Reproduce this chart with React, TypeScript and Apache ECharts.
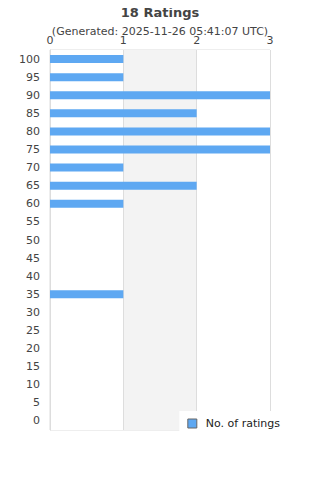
import React, { useEffect, useRef } from "react";
import * as echarts from "echarts";

const categories = ["0","5","10","15","20","25","30","35","40","45","50","55","60","65","70","75","80","85","90","95","100"];
const ratings = [0,0,0,0,0,0,0,1,0,0,0,0,1,2,1,3,3,2,3,1,1];
const xTicks = [0, 1, 2, 3];
const titleText = "18 Ratings";
const subText = "(Generated: 2025-11-26 05:41:07 UTC)";
const seriesName = "No. of ratings";

export default function App() {
  const ref = useRef<HTMLDivElement>(null);
  useEffect(() => {
    const chart = echarts.init(ref.current!, null, { renderer: "svg" });
    chart.setOption({
      animation: false,
      textStyle: { fontFamily: "DejaVu Sans" },
      title: {
        text: titleText,
        subtext: subText,
        left: "center",
        top: 1,
        itemGap: 7,
        textStyle: { fontSize: 13, fontWeight: "bold", color: "#444", fontFamily: "DejaVu Sans" },
        subtextStyle: { fontSize: 11, color: "#444", fontFamily: "DejaVu Sans" },
      },
      grid: { left: 50, right: 50, top: 50, bottom: 50, show: true, borderColor: "#ddd", borderWidth: 1, backgroundColor: "transparent" },
      xAxis: {
        type: "value",
        position: "top",
        min: xTicks[0],
        max: xTicks[xTicks.length - 1],
        interval: 1,
        axisLine: { show: false },
        axisTick: { show: false },
        axisLabel: { fontSize: 11, color: "#444", margin: 4 },
        splitLine: { show: true, lineStyle: { color: "#ddd" } },
        splitArea: { show: true, areaStyle: { color: ["#ffffff", "#f3f3f3"] } },
      },
      yAxis: {
        type: "category",
        data: categories,
        axisLine: { show: true, lineStyle: { color: "#ddd" } },
        axisTick: { show: false },
        axisLabel: { fontSize: 11, color: "#444", margin: 10 },
      },
      legend: {
        right: 30,
        top: 411,
        backgroundColor: "#fff",
        padding: [7, 10, 7, 8],
        itemWidth: 9,
        itemHeight: 9,
        icon: "rect",
        textStyle: { fontSize: 11, color: "#222", padding: [0, 0, 0, 4] },
        data: [{ name: seriesName, itemStyle: { borderColor: "#666", borderWidth: 1 } }],
      },
      series: [
        {
          name: seriesName,
          type: "bar",
          data: ratings,
          barWidth: 8,
          itemStyle: { color: "#5ea8f2" },
        },
      ],
    });
    return () => chart.dispose();
  }, []);
  return <div ref={ref} style={{ width: 320, height: 480, margin: -8 }} />;
}
